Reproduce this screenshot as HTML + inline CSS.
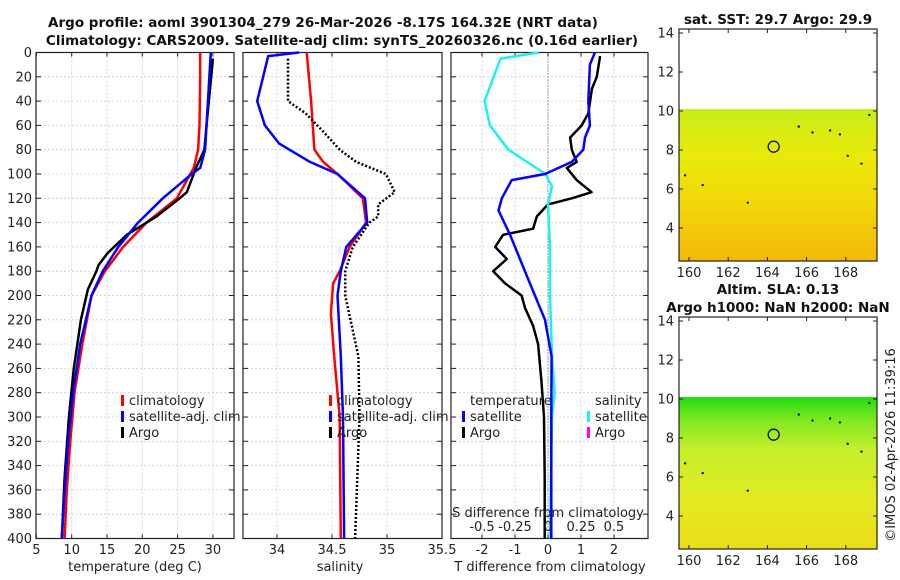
<!DOCTYPE html>
<html><head><meta charset="utf-8">
<style>
body{margin:0;background:#fff;}
svg{display:block;font-family:"DejaVu Sans","Liberation Sans",sans-serif;}
.t{font-size:13px;fill:#222;}
.b{font-size:13.5px;font-weight:bold;fill:#111;}
</style></head>
<body>
<svg id="c" width="900" height="580" viewBox="0 0 900 580">
<defs>
<linearGradient id="g1" x1="0" y1="0" x2="0" y2="1">
<stop offset="0" stop-color="#c8ec18"/><stop offset="0.3" stop-color="#e8ea0a"/><stop offset="0.6" stop-color="#f2d808"/><stop offset="1" stop-color="#f2b808"/></linearGradient>
<linearGradient id="g2" x1="0" y1="0" x2="0" y2="1">
<stop offset="0" stop-color="#1edc10"/><stop offset="0.15" stop-color="#7ee820"/><stop offset="0.35" stop-color="#c6ee2c"/><stop offset="0.7" stop-color="#e4ea20"/><stop offset="1" stop-color="#ecdc18"/></linearGradient>
</defs>
</svg>
<script>
// ---- data ----
const tClimDepth=[0,20,60,80,95,100,120,140,160,180,200,240,280,320,360,400];
const tClimVal=[28.2,28.2,28.1,27.9,27.3,26.8,24.9,20.6,17.3,14.7,12.8,11.5,10.4,9.8,9.3,9.0];
const tSatDepth=[0,80,95,100,120,140,160,180,200,240,280,320,360,400];
const tSatVal=[29.7,28.9,28.2,27.0,22.9,19.4,16.6,14.4,12.8,11.2,10.2,9.5,9.0,8.6];
const tArgoDepth=[5,60,80,95,115,120,135,145,150,165,175,180,195,220,260,300,350,400];
const tArgoVal=[30.0,29.1,28.8,27.6,26.3,25.3,22.0,19.2,17.8,15.1,13.8,13.5,12.3,11.3,10.3,9.6,9.0,8.6];
const sClimDepth=[0,40,80,90,100,120,140,160,180,190,215,250,300,400];
const sClimVal=[34.27,34.31,34.34,34.42,34.55,34.78,34.81,34.66,34.57,34.51,34.49,34.52,34.57,34.58];
const sSatDepth=[0,3,40,60,75,90,100,120,140,160,180,200,250,300,400];
const sSatVal=[34.2,33.92,33.82,33.89,34.02,34.3,34.55,34.8,34.82,34.63,34.58,34.55,34.58,34.6,34.61];
const sArgoDepth=[5,40,50,65,80,90,100,115,125,135,140,160,180,200,250,300,350,400];
const sArgoVal=[34.1,34.1,34.26,34.42,34.57,34.72,34.99,35.07,34.92,34.92,34.84,34.69,34.62,34.62,34.74,34.75,34.73,34.71];
const dSatSDepth=[0,5,40,60,80,100,110,125,160,200,250,280,300,400];
const dSatSVal=[-0.07,-0.36,-0.48,-0.44,-0.3,-0.02,0.03,0,0.015,0.015,0.03,0.05,0.03,0.015];
const dSatTDepth=[0,10,40,60,70,80,90,100,105,120,130,150,180,220,250,300,400];
const dSatTVal=[1.42,1.27,1.22,1.27,1.12,1.07,0.72,-0.09,-1.1,-1.4,-1.5,-1.15,-0.7,-0.09,0.11,0.1,0.1];
const dArgoTDepth=[3,20,30,50,60,70,80,90,95,105,115,120,125,135,145,150,160,170,180,190,200,210,225,240,270,300,350,400];
const dArgoTVal=[1.58,1.48,1.33,1.22,1.02,0.67,0.72,0.87,0.57,0.87,1.32,0.72,0,-0.34,-0.45,-1.36,-1.6,-1.25,-1.66,-1.3,-0.8,-0.7,-0.45,-0.3,-0.2,-0.12,-0.1,-0.1];
const depthTicks=[0,20,40,60,80,100,120,140,160,180,200,220,240,260,280,300,320,340,360,380,400];
const tTicks=[5,10,15,20,25,30];
const sTicks=[34,34.5,35,35.5];
const dTTicks=[-2,-1,0,1,2];
const dSTicks=[-0.5,-0.25,0,0.25,0.5];
const lonTicks=[160,162,164,166,168];
const latTicks=[4,6,8,10,12,14];

const NS="http://www.w3.org/2000/svg";
const svg=document.getElementById('c');
function el(tag,at,parent){const e=document.createElementNS(NS,tag);for(const k in at)e.setAttribute(k,at[k]);(parent||svg).appendChild(e);return e;}
function txt(x,y,s,cls,anchor,parent){const e=el('text',{x:x,y:y,class:cls,'text-anchor':anchor||'middle'},parent);e.textContent=s;return e;}

const Y0=52.5,Y1=538.5;
const yD=d=>Y0+(d/400)*(Y1-Y0);
const xT=v=>36.4+(v-5)*7.06;
const xS=v=>277+(v-34)*110;
const xDT=v=>548+v*33;
const xDS=v=>548+v*132;

function panel(name,x0,x1,xt,ticks,showY){
  const g=el('g',{});  
  ticks.forEach(t=>{const x=xt(t); el('line',{x1:x,x2:x,y1:Y0,y2:Y1,stroke:'#c4cce8','stroke-width':0.8,'stroke-dasharray':'2,2'},g);
    el('line',{x1:x,x2:x,y1:Y1,y2:Y1-4,stroke:'#222'},g); el('line',{x1:x,x2:x,y1:Y0,y2:Y0+4,stroke:'#222'},g);});
  depthTicks.forEach(d=>{const y=yD(d); el('line',{x1:x0,x2:x1,y1:y,y2:y,stroke:'#c4cce8','stroke-width':0.8,'stroke-dasharray':'2,2'},g);
    el('line',{x1:x0,x2:x0+5,y1:y,y2:y,stroke:'#222'},g); el('line',{x1:x1-5,x2:x1,y1:y,y2:y,stroke:'#222'},g);
    if(showY) txt(x0-4,y+4.5,String(d),'t','end',g);});
  el('rect',{x:x0,y:Y0,width:x1-x0,height:Y1-Y0,fill:'none',stroke:'#222','stroke-width':1.2},g);
  return g;
}
function line(name,depths,vals,xf,color,w,dash){
  const pts=depths.map((d,i)=>xf(vals[i]).toFixed(1)+','+yD(d).toFixed(1)).join(' ');
  const p=el('polyline',{points:pts,fill:'none',stroke:color,'stroke-width':w,'stroke-linejoin':'round'});
  if(dash)p.setAttribute('stroke-dasharray',dash);
  
  
  return p;
}
panel('temperature-panel',36,234,xT,tTicks,true);
panel('salinity-panel',243,442,xS,sTicks,false);
panel('difference-panel',451,648,xDT,dTTicks,false);
el('line',{x1:548,x2:548,y1:Y0,y2:Y1,stroke:'#555','stroke-width':1,'stroke-dasharray':'1,2'});

line('temp-climatology-line',tClimDepth,tClimVal,xT,'#f00',2.5);
line('temp-argo-line',tArgoDepth,tArgoVal,xT,'#000',2.5);
line('temp-satellite-line',tSatDepth,tSatVal,xT,'#00f',2.5);
line('sal-climatology-line',sClimDepth,sClimVal,xS,'#f00',2.5);
line('sal-satellite-line',sSatDepth,sSatVal,xS,'#00f',2.5);
line('sal-argo-line',sArgoDepth,sArgoVal,xS,'#000',2.5,'2,2');
line('tdiff-argo-line',dArgoTDepth,dArgoTVal,xDT,'#000',2.5);
line('sdiff-satellite-line',dSatSDepth,dSatSVal,xDS,'#1ef0f0',2.5);
line('tdiff-satellite-line',dSatTDepth,dSatTVal,xDT,'#00f',2.5);

tTicks.forEach(t=>txt(xT(t),554,String(t),'t'));
sTicks.forEach(t=>txt(xS(t),554,String(t),'t'));
dTTicks.forEach(t=>txt(xDT(t),554,String(t),'t'));
dSTicks.forEach(t=>txt(xDS(t),531,String(t),'t'));
txt(135,571,'temperature (deg C)','t');
txt(340,571,'salinity','t');
txt(550,571,'T difference from climatology','t');
txt(548,517,'S difference from climatology','t');

txt(323,27,'Argo profile: aoml 3901304_279 26-Mar-2026 -8.17S 164.32E (NRT data)','b');
txt(342,45,'Climatology: CARS2009. Satellite-adj clim: synTS_20260326.nc (0.16d earlier)','b');

function leg(x,y,color,label,name){
  const g=el('g',{});  
  el('rect',{x:x,y:y-10,width:3,height:11,fill:color},g); txt(x+8,y,label,'t','start',g);
}
leg(121,405,'#f00','climatology','legend-temp-climatology');
leg(121,421,'#00f','satellite-adj. clim','legend-temp-satellite');
leg(121,437,'#000','Argo','legend-temp-argo');
leg(329,405,'#f00','climatology','legend-sal-climatology');
leg(329,421,'#00f','satellite-adj. clim','legend-sal-satellite');
leg(329,437,'#000','Argo','legend-sal-argo');
txt(470,405,'temperature','t','start');
leg(462,421,'#00f','satellite','legend-tdiff-satellite');
leg(462,437,'#000','Argo','legend-tdiff-argo');
txt(595,405,'salinity','t','start');
leg(587,421,'#1ef0f0','satellite','legend-sdiff-satellite');
leg(587,437,'#f0f','Argo','legend-sdiff-argo');

function map(name,y0,fill,topLat){
  const g=el('g',{});  
  const x0=679,x1=877,h=232;
  const lx=v=>689+(v-160)*19.6;
  const ly=v=>y0+4+(14-v)*19.5;
  el('rect',{x:x0,y:ly(topLat),width:x1-x0,height:y0+h-ly(topLat),fill:fill},g);
  el('circle',{cx:lx(164.32),cy:ly(8.17),r:5.5,fill:'none',stroke:'#111','stroke-width':1.3},g);
  [[163,5.3],[160.7,6.2],[159.8,6.7],[168.1,7.7],[168.8,7.3],[167.2,9],[166.3,8.9],[165.6,9.2],[167.7,8.8],[169.2,9.8]].forEach(p=>el('circle',{cx:lx(p[0]),cy:ly(p[1]),r:1.2,fill:'#111'},g));
  el('rect',{x:x0,y:y0,width:x1-x0,height:h,fill:'none',stroke:'#222','stroke-width':1.2},g);
  lonTicks.forEach(v=>{el('line',{x1:lx(v),x2:lx(v),y1:y0+h,y2:y0+h-4,stroke:'#222'},g);el('line',{x1:lx(v),x2:lx(v),y1:y0,y2:y0+4,stroke:'#222'},g);txt(lx(v),y0+h+16,String(v),'t','middle',g);});
  latTicks.forEach(v=>{el('line',{x1:x0,x2:x0+4,y1:ly(v),y2:ly(v),stroke:'#222'},g);el('line',{x1:x1-4,x2:x1,y1:ly(v),y2:ly(v),stroke:'#222'},g);txt(x0-5,ly(v)+4.5,String(v),'t','end',g);});
}
map('sst-map',29,'url(#g1)',10.1);
map('sla-map',317,'url(#g2)',10.1);
txt(778,24,'sat. SST: 29.7 Argo: 29.9','b');
txt(778,294,'Altim. SLA: 0.13','b');
txt(778,312,'Argo h1000: NaN h2000: NaN','b');
const cr=txt(0,0,'©IMOS 02-Apr-2026 11:39:16','t','middle');
cr.setAttribute('transform','translate(895,445) rotate(-90)');

</script>
</body></html>
